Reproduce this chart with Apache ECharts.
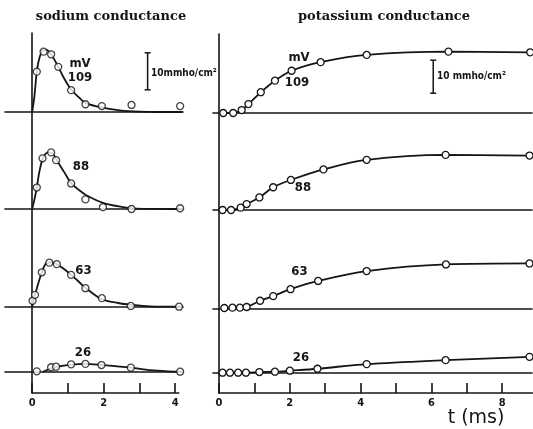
<!DOCTYPE html>
<html>
<head>
<meta charset="utf-8">
<script src="https://cdn.jsdelivr.net/npm/echarts@6/dist/echarts.min.js"></script>
<style>
html,body{margin:0;padding:0;background:#fff;}
#chart{width:533px;height:429px;}
</style>
</head>
<body>
<div id="chart"></div>
<script>
// ---- data (t in ms, conductance in mmho/cm²) ----
const titles = ['sodium conductance', 'potassium conductance'];
const voltageLabels = ['109', '88', '63', '26'];
const naTicks = [0, 1, 2, 3, 4];
const naTickLabels = [0, 2, 4];
const kTicks = [0, 1, 2, 3, 4, 5, 6, 7, 8];
const kTickLabels = [0, 2, 4, 6, 8];

const na109Pts = [[0.13,10.9],[0.32,16.3],[0.53,15.6],[0.73,12.2],[1.09,5.9],[1.49,2.1],[1.95,1.6],[2.78,1.9],[4.14,1.6]];
const na109Fit = [[0,0],[0.06,4],[0.13,10.9],[0.2,14.5],[0.3,16.7],[0.4,16.8],[0.53,15.6],[0.73,12.2],[0.9,9],[1.09,6.1],[1.3,4],[1.5,2.4],[1.95,1.2],[2.5,0.4],[3.0,0.1],[3.5,0],[4.2,0]];
const na88Pts = [[0.13,5.8],[0.29,13.7],[0.53,15.3],[0.67,13.2],[1.09,6.9],[1.49,2.6],[1.98,0.5],[2.78,0],[4.14,0.2]];
const na88Fit = [[0,0],[0.05,2],[0.13,5.8],[0.2,10],[0.3,13.7],[0.45,15.3],[0.55,15.2],[0.7,13],[0.9,9.9],[1.09,7.0],[1.3,5.2],[1.5,3.8],[2.0,1.6],[2.5,0.6],[2.9,0.1],[4.2,0]];
const na63Pts = [[0.01,1.6],[0.08,3.2],[0.27,9.3],[0.48,11.9],[0.69,11.5],[1.09,8.6],[1.49,5.0],[1.95,2.3],[2.76,0.2],[4.11,0]];
const na63Fit = [[0,0],[0.08,3.2],[0.27,9.3],[0.4,11.8],[0.55,12.0],[0.7,11.4],[0.9,10.1],[1.09,8.6],[1.3,6.8],[1.49,5.1],[1.95,2.0],[2.4,1.0],[2.8,0.5],[3.3,0.1],[4.2,0]];
const na26Pts = [[0.13,0.1],[0.53,1.2],[0.67,1.35],[1.09,2.0],[1.49,2.1],[1.94,1.8],[2.76,1.1],[4.14,0]];
const na26Fit = [[0.3,0],[0.5,0.8],[0.67,1.3],[1.09,1.9],[1.49,2.1],[1.94,1.8],[2.76,1.1],[3.3,0.4],[3.8,0.1],[4.2,0]];

const k109Pts = [[0.12,0],[0.40,0],[0.64,0.9],[0.83,2.7],[1.18,6.3],[1.58,9.8],[2.05,12.8],[2.87,15.4],[4.17,17.6],[6.48,18.6],[8.79,18.4]];
const k88Pts = [[0.1,0],[0.34,0],[0.61,0.7],[0.78,1.8],[1.14,3.8],[1.53,6.9],[2.03,9.1],[2.95,12.3],[4.17,15.2],[6.40,16.7],[8.77,16.5]];
const k63Pts = [[0.15,0.3],[0.38,0.4],[0.59,0.4],[0.78,0.6],[1.16,2.5],[1.53,3.9],[2.02,6.0],[2.8,8.5],[4.17,11.5],[6.41,13.5],[8.77,13.8]];
const k26Pts = [[0.1,0],[0.31,0],[0.54,0],[0.76,0],[1.14,0.2],[1.58,0.3],[2.0,0.6],[2.78,1.2],[4.17,2.6],[6.4,3.8],[8.77,4.8]];

const naScaleBar = [[3.23,6],[3.23,16]];
const kScaleBar = [[6.05,6],[6.05,16]];

// ---- layout ----
const INK = '#151515';
const naBase = [112, 209, 306.7, 371.7];
const kBase = [113, 210, 309, 372.7];
const naPx = 3.7, kPx = 3.3;
const naYMin = -3, naYMax = 20, kYMin = -3, kYMax = 22;

const grids = [], xAxes = [], yAxes = [], series = [];

function dataGrid(base, pxPerUnit, ymin, ymax, left, width, xmin, xmax) {
  const gi = grids.length;
  grids.push({left: left, width: width, top: base - ymax * pxPerUnit, height: (ymax - ymin) * pxPerUnit});
  xAxes.push({gridIndex: gi, type: 'value', min: xmin, max: xmax,
    axisLine: {show: true, onZero: true, lineStyle: {color: INK, width: 1.6}},
    axisTick: {show: false}, axisLabel: {show: false}, splitLine: {show: false}});
  yAxes.push({gridIndex: gi, type: 'value', min: ymin, max: ymax, show: false});
  return gi;
}

const naFits = [na109Fit, na88Fit, na63Fit, na26Fit];
const naPts = [na109Pts, na88Pts, na63Pts, na26Pts];
const kPts = [k109Pts, k88Pts, k63Pts, k26Pts];

const symStyle = {color: '#fff', borderColor: INK, borderWidth: 1.3};

for (let r = 0; r < 4; r++) {
  const gi = dataGrid(naBase[r], naPx, naYMin, naYMax, 5, 178, -0.76, 4.22);
  series.push({type: 'line', xAxisIndex: gi, yAxisIndex: gi, data: naFits[r], smooth: 0.3,
    showSymbol: false, lineStyle: {color: INK, width: 1.8}, z: 2, clip: false});
  series.push({type: 'scatter', xAxisIndex: gi, yAxisIndex: gi, data: naPts[r], symbol: 'circle',
    symbolSize: 7, itemStyle: symStyle, z: 3, clip: false});
  if (r === 0) {
    series.push({type: 'line', xAxisIndex: gi, yAxisIndex: gi, data: naScaleBar, symbol: 'rect',
      symbolSize: [6, 1.5], showSymbol: true, itemStyle: {color: INK}, lineStyle: {color: INK, width: 1.5}, z: 2});
  }
}
for (let r = 0; r < 4; r++) {
  const gi = dataGrid(kBase[r], kPx, kYMin, kYMax, 213, 319, -0.17, 8.84);
  series.push({type: 'line', xAxisIndex: gi, yAxisIndex: gi, data: kPts[r], smooth: 0.35,
    symbol: 'circle', symbolSize: 7, itemStyle: symStyle,
    lineStyle: {color: INK, width: 1.8}, z: 3, clip: false});
  if (r === 0) {
    series.push({type: 'line', xAxisIndex: gi, yAxisIndex: gi, data: kScaleBar, symbol: 'rect',
      symbolSize: [6, 1.5], showSymbol: true, itemStyle: {color: INK}, lineStyle: {color: INK, width: 1.5}, z: 2});
  }
}

// frame grids (vertical axis + time axis)
function frameGrid(left, top, bottomY, xmax, pxPerMs, ticks, labels) {
  const gi = grids.length;
  grids.push({left: left, top: top, width: xmax * pxPerMs, height: bottomY - top});
  xAxes.push({gridIndex: gi, type: 'value', min: 0, max: xmax, position: 'bottom',
    axisLine: {show: true, onZero: false, lineStyle: {color: INK, width: 1.6}},
    axisTick: {show: true, inside: true, length: 10, customValues: ticks, lineStyle: {color: INK, width: 1.6}},
    axisLabel: {show: true, customValues: labels, margin: 5, color: INK,
      fontFamily: 'Liberation Sans Narrow, DejaVu Sans Condensed, sans-serif', fontWeight: 'bold', fontSize: 11},
    splitLine: {show: false}});
  yAxes.push({gridIndex: gi, type: 'value', min: 0, max: 1,
    axisLine: {show: true, onZero: false, lineStyle: {color: INK, width: 1.6}},
    axisTick: {show: false}, axisLabel: {show: false}, splitLine: {show: false}});
}
frameGrid(32.2, 33, 393, 4.1, 35.74, naTicks, naTickLabels);
frameGrid(219, 34, 393, 8.85, 35.4, kTicks, kTickLabels);

// ---- text annotations ----
function txt(text, x, y, font, align) {
  return {type: 'text', x: x, y: y, z: 10,
    style: {text: text, font: font, fill: INK, textAlign: align || 'center', verticalAlign: 'middle', textVerticalAlign: 'middle'}};
}
const numFont = 'bold 13px "Liberation Sans Narrow", "DejaVu Sans Condensed", sans-serif';
const smallFont = 'bold 10px "Liberation Sans Narrow", "DejaVu Sans Condensed", sans-serif';
const titleFont = 'bold 13px "DejaVu Serif", serif';
const naLabelPos = [[80, 78], [81, 167], [83.5, 271], [83, 353]];
const kLabelPos = [[297, 83], [303, 188], [299.5, 272], [301, 357.5]];

const graphic = [
  txt(titles[0], 111, 17, titleFont),
  txt(titles[1], 384, 17, titleFont),
  txt('mV', 80, 64, numFont),
  txt('mV', 299, 58, numFont),
  txt('10mmho/cm²', 151, 73, smallFont, 'left'),
  txt('10 mmho/cm²', 437, 76, smallFont, 'left'),
  txt('t (ms)', 476, 418, '19px "DejaVu Sans", sans-serif')
];
for (let r = 0; r < 4; r++) {
  graphic.push(txt(voltageLabels[r], naLabelPos[r][0], naLabelPos[r][1], numFont));
  graphic.push(txt(voltageLabels[r], kLabelPos[r][0], kLabelPos[r][1], numFont));
}

const chart = echarts.init(document.getElementById('chart'), null, {renderer: 'canvas'});
chart.setOption({
  animation: false,
  backgroundColor: '#fff',
  grid: grids,
  xAxis: xAxes,
  yAxis: yAxes,
  series: series,
  graphic: graphic
});
</script>
</body>
</html>
